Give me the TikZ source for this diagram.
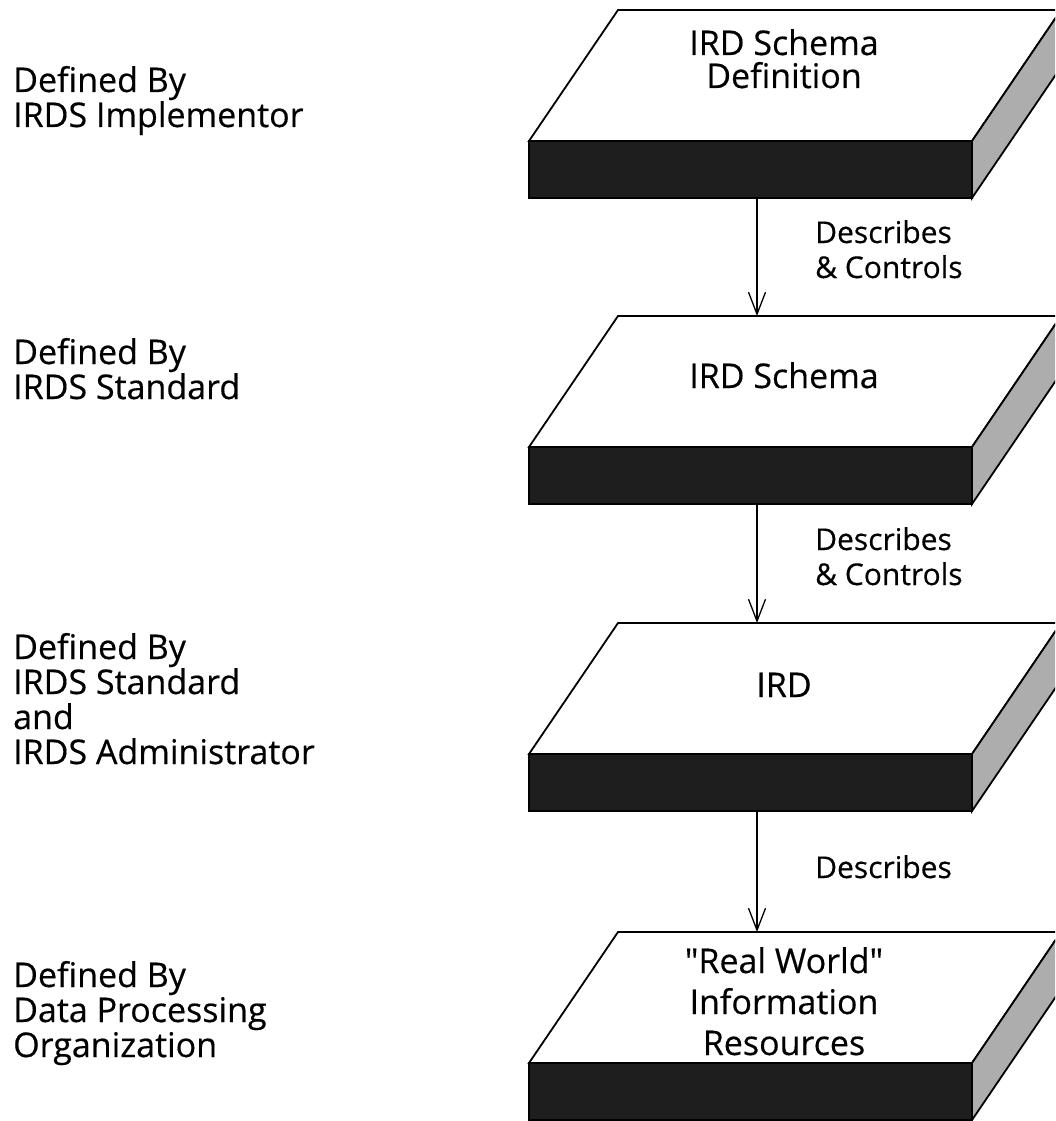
\documentclass[tikz,border=0pt]{standalone}
\usepackage{fontspec}
\setmainfont{Open Sans}[Ligatures=TeXOff, FakeBold=0.4]
\usetikzlibrary{arrows.meta}
\definecolor{frontc}{HTML}{1E1E1E}
\definecolor{sidec}{HTML}{ADADAD}
\newcommand\drawslab[2]{%
  \coordinate (#1-top) at (757,#2);
  \coordinate (#1-bot) at (757,#2+188);
  \draw[slabline, fill=white] (618,#2) -- (1061,#2) -- (972,#2+131) -- (529,#2+131) -- cycle;
  \draw[slabline, fill=frontc] (529,#2+131) rectangle (972,#2+188);
  \draw[slabline, fill=sidec] (972,#2+131) -- (1061,#2) -- (1061,#2+57) -- (972,#2+188) -- cycle;
}
\begin{document}
\begin{tikzpicture}[x=1pt,y=-1pt,
  slabline/.style={line width=1.8pt, line join=miter},
  conn/.style={line width=1.3pt, -{Straight Barb[length=22pt,width=17pt,line width=1.3pt]}},
  lefttext/.style={anchor=base west, inner sep=0pt, font=\fontsize{34}{35}\selectfont},
  slabtext/.style={anchor=base, inner sep=0pt, font=\fontsize{34}{35}\selectfont},
  labtext/.style={anchor=base west, inner sep=0pt, font=\fontsize{30}{33}\selectfont}]
\clip (0,0) rectangle (1055,1121);
\fill[white] (0,0) rectangle (1055,1121);

% slabs
\drawslab{s1}{10}
\drawslab{s2}{316}
\drawslab{s3}{623}
\drawslab{s4}{932}

% slab texts
\node[slabtext] (t1a) at (784,55) {IRD Schema};
\node[slabtext] (t1b) at (784,88) {Definition};
\node[slabtext] (t2a) at (784,388) {IRD Schema};
\node[slabtext] (t3a) at (784,697) {IRD};
\node[slabtext] (t4a) at (784,973) {"Real World"};
\node[slabtext] (t4b) at (784,1014) {Information};
\node[slabtext] (t4c) at (784,1055) {Resources};

% connectors
\draw[conn] (s1-bot) -- (s2-top);
\draw[conn] (s2-bot) -- (s3-top);
\draw[conn] (s3-bot) -- (s4-top);

% connector labels
\node[labtext] (l1a) at (815,243) {Describes};
\node[labtext] (l1b) at (815,278) {\& Controls};
\node[labtext] (l2a) at (815,550) {Describes};
\node[labtext] (l2b) at (815,585) {\& Controls};
\node[labtext] (l3a) at (815,878) {Describes};

% left texts
\node[lefttext] (g1a) at (13,92) {Defined By};
\node[lefttext] (g1b) at (13,127) {IRDS Implementor};
\node[lefttext] (g2a) at (13,364) {Defined By};
\node[lefttext] (g2b) at (13,399) {IRDS Standard};
\node[lefttext] (g3a) at (13,659) {Defined By};
\node[lefttext] (g3b) at (13,694) {IRDS Standard};
\node[lefttext] (g3c) at (13,729) {and};
\node[lefttext] (g3d) at (13,764) {IRDS Administrator};
\node[lefttext] (g4a) at (13,987) {Defined By};
\node[lefttext] (g4b) at (13,1022) {Data Processing};
\node[lefttext] (g4c) at (13,1057) {Organization};
\end{tikzpicture}
\end{document}
